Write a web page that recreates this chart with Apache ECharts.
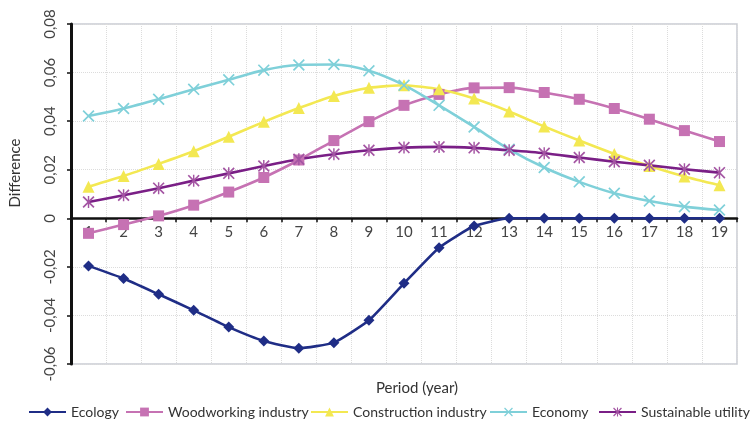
<!DOCTYPE html>
<html>
<head>
<meta charset="utf-8">
<script src="https://cdn.jsdelivr.net/npm/echarts@6/dist/echarts.min.js"></script>
<style>
  html, body { margin: 0; padding: 0; background: #fff; }
  #chart { width: 752px; height: 422px; }
</style>
</head>
<body>
<div id="chart"></div>
<script>
// Periods (years) on the horizontal axis
const periods = ['1','2','3','4','5','6','7','8','9','10','11','12','13','14','15','16','17','18','19'];

// Differences per sector, one value per period
const ecology = [-0.0196, -0.0248, -0.0313, -0.0379, -0.0448, -0.0505, -0.0535, -0.0512, -0.0420, -0.0268, -0.0121, -0.0032, 0, 0, 0, 0, 0, 0, 0];
const woodworking = [-0.0062, -0.0026, 0.0010, 0.0054, 0.0108, 0.0168, 0.0240, 0.0320, 0.0398, 0.0465, 0.0510, 0.0537, 0.0538, 0.0518, 0.0490, 0.0452, 0.0408, 0.0361, 0.0316];
const construction = [0.0130, 0.0174, 0.0224, 0.0276, 0.0336, 0.0397, 0.0454, 0.0504, 0.0537, 0.0548, 0.0531, 0.0493, 0.0440, 0.0378, 0.0320, 0.0265, 0.0215, 0.0172, 0.0136];
const economy = [0.0421, 0.0452, 0.0490, 0.0531, 0.0570, 0.0610, 0.0631, 0.0633, 0.0607, 0.0548, 0.0465, 0.0376, 0.0284, 0.0209, 0.0150, 0.0103, 0.0071, 0.0048, 0.0034];
const sustainable = [0.0067, 0.0095, 0.0124, 0.0155, 0.0185, 0.0215, 0.0243, 0.0264, 0.0280, 0.0291, 0.0294, 0.0290, 0.0280, 0.0268, 0.0250, 0.0233, 0.0218, 0.0202, 0.0188];

// Series names in legend order
const seriesNames = ['Ecology', 'Woodworking industry', 'Construction industry', 'Economy', 'Sustainable utility'];

// Y axis range and step
const yMin = -0.06, yMax = 0.08, yStep = 0.02;

const FONT = 'Lato';
const GRID = { left: 71, right: 15, top: 24, bottom: 58 };
const CHART_H = 422;

// Stroke-like marker shapes built from thin filled bars
const crossPath = 'path://M0,1 L1,0 L10,9 L9,10 Z M9,0 L10,1 L1,10 L0,9 Z';
const starPath = 'path://M0,1 L1,0 L10,9 L9,10 Z M9,0 L10,1 L1,10 L0,9 Z M4.4,0 L5.6,0 L5.6,10 L4.4,10 Z';

function lineSeries(name, data, color, symbol, size, smooth, markColor) {
  return {
    name: name,
    type: 'line',
    data: data,
    smooth: smooth,
    symbol: symbol,
    symbolSize: size,
    showAllSymbol: true,
    lineStyle: { color: color, width: 2.6 },
    itemStyle: { color: markColor || color },
    emphasis: { disabled: true },
    z: 3
  };
}

// Distance from the bottom grid edge up to the zero line, used to keep
// category labels right under the zero axis line
const plotH = CHART_H - GRID.top - GRID.bottom;
const zeroFromBottom = plotH * (0 - yMin) / (yMax - yMin);

// One legend block per series, laid out left to right
const legendLefts = [28, 125, 310, 489, 598];
const legends = seriesNames.map((n, i) => ({
  left: legendLefts[i], top: 405, padding: 0,
  itemWidth: 37, itemHeight: 11, itemGap: 0,
  textStyle: { fontFamily: FONT, fontSize: 14, color: '#333' },
  data: [n]
}));

const chart = echarts.init(document.getElementById('chart'), null, { renderer: 'canvas' });

chart.setOption({
  animation: false,
  backgroundColor: '#ffffff',
  textStyle: { fontFamily: FONT },
  grid: Object.assign({
    show: true, borderColor: '#c9ccd3', borderWidth: 1.5, backgroundColor: 'transparent'
  }, GRID),
  graphic: [
    {
      type: 'text',
      x: 417, y: 388,
      style: { text: 'Period (year)', font: '15px ' + FONT, fill: '#333', align: 'center', verticalAlign: 'middle' }
    },
    {
      type: 'text',
      x: 15, y: 173, rotation: Math.PI / 2,
      style: { text: 'Difference', font: '15px ' + FONT, fill: '#333', align: 'center', verticalAlign: 'middle' }
    }
  ],
  legend: legends,
  xAxis: {
    type: 'category',
    data: periods,
    boundaryGap: true,
    axisLine: { onZero: true, lineStyle: { color: '#111', width: 2.5 } },
    axisTick: { show: true, length: 4, lineStyle: { color: '#111', width: 1.5 } },
    axisLabel: { color: '#444', fontSize: 15, fontFamily: FONT, margin: 6 - zeroFromBottom },
    splitLine: { show: true, lineStyle: { color: '#dcdcdc', type: 'dotted', width: 1 } }
  },
  yAxis: {
    type: 'value',
    min: yMin, max: yMax, interval: yStep,
    axisLine: { show: true, lineStyle: { color: '#111', width: 3 } },
    axisTick: { show: true, length: 4, lineStyle: { color: '#111', width: 1.5 } },
    axisLabel: {
      rotate: 90, color: '#444', fontSize: 15, fontFamily: FONT, margin: 13,
      formatter: v => (Math.abs(v) < 1e-9 ? '0' : v.toFixed(2).replace('.', ','))
    },
    splitLine: { show: true, lineStyle: { color: '#dcdcdc', type: 'dotted', width: 1 } }
  },
  series: [
    lineSeries('Ecology', ecology, '#1f2d86', 'diamond', 11, 0.15),
    lineSeries('Woodworking industry', woodworking, '#c672b3', 'rect', 11, 0.2),
    lineSeries('Construction industry', construction, '#f3e852', 'triangle', 12, 0.2),
    lineSeries('Economy', economy, '#7fd0d9', crossPath, 12, 0.3),
    lineSeries('Sustainable utility', sustainable, '#7a1f86', starPath, 12, 0.2, '#a455a3')
  ]
});
</script>
</body>
</html>
